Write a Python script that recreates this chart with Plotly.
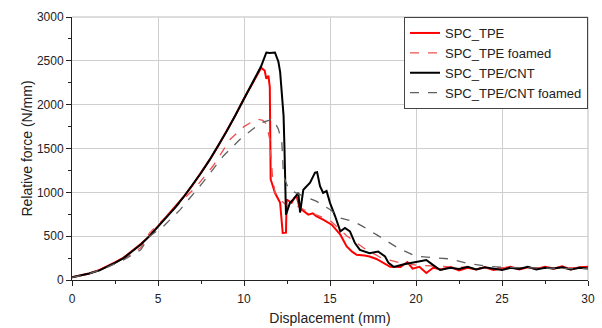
import plotly.graph_objects as go

# SPC_TPE (red solid)
tpe_x = [0, 0.5, 1, 1.6, 2, 2.5, 3, 3.5, 4, 4.5, 5, 5.5, 6, 6.5, 7, 7.5, 8, 8.5, 9, 9.5, 10, 10.5, 11, 11.2,
         11.3, 11.42, 11.5, 11.55, 11.8, 12.1, 12.2, 12.25, 12.44, 12.48, 12.77, 12.9, 13.06, 13.2, 13.35, 13.5,
         13.74, 14.0, 14.2, 14.6, 15.1, 15.6, 15.97, 16.3, 16.55, 17.0, 17.3, 17.7, 18.1, 18.5, 19.1, 19.5, 19.8,
         20.2, 20.6, 21.0, 21.5, 22.0, 22.5, 23.0, 23.5, 24.0, 24.5, 25.0, 25.5, 26.0, 26.5, 27.0, 27.5, 28.0,
         28.5, 29.0, 29.5, 30.0]
tpe_y = [30, 50, 75, 115, 150, 200, 255, 330, 410, 500, 610, 720, 830, 950, 1080, 1220, 1370, 1530, 1700, 1880,
         2070, 2250, 2420, 2390, 2295, 2330, 2200, 1150, 995, 880, 600, 536, 540, 918, 880, 930, 956, 850, 804, 780,
         746, 760, 727, 689, 631, 517, 382, 320, 287, 280, 268, 240, 191, 150, 148, 205, 130, 150, 80, 140, 120,
         150, 110, 140, 120, 145, 115, 135, 150, 120, 145, 125, 150, 130, 155, 120, 145, 150]

# SPC_TPE foamed (red dashed)
tpef_x = [0, 1, 2, 3, 3.5, 4, 4.5, 5.3, 6.28, 7.25, 8.2, 9.2, 10.0, 10.5, 10.8, 11.1, 11.3, 11.5, 11.65, 11.8,
          12.2, 12.6, 13.0, 13.5, 14.0, 15.0, 16.0, 17.0, 18.0, 19.0, 20.0, 22.0, 24.0, 26.0, 28.0, 30.0]
tpef_y = [30, 75, 145, 240, 300, 370, 535, 690, 880, 1070, 1300, 1605, 1750, 1810, 1835, 1820, 1780, 1600, 1200,
          1000, 900, 830, 850, 800, 760, 680, 500, 360, 250, 200, 170, 150, 140, 140, 135, 140]

# SPC_TPE/CNT (black solid)
cnt_x = [0, 0.5, 1, 1.6, 2, 2.5, 3, 3.5, 4, 4.5, 5, 5.5, 6, 6.5, 7, 7.5, 8, 8.5, 9, 9.5, 10, 10.5, 11, 11.3,
         11.5, 11.8, 12.0, 12.1, 12.25, 12.3, 12.35, 12.44, 12.67, 12.87, 13.16, 13.26, 13.45, 13.84, 14.13, 14.25,
         14.42, 14.6, 14.8, 15.0, 15.3, 15.6, 15.87, 16.16, 16.45, 16.74, 17.3, 17.8, 18.2, 18.4, 18.7, 19.3, 20.0,
         20.6, 21.0, 21.4, 22.0, 22.5, 23.0, 23.5, 24.0, 24.5, 25.0, 25.5, 26.0, 26.5, 27.0, 27.5, 28.0, 28.5,
         29.0, 29.5, 30.0]
cnt_y = [30, 50, 75, 110, 145, 195, 250, 325, 405, 500, 605, 715, 825, 950, 1080, 1220, 1370, 1530, 1700, 1880,
         2070, 2260, 2440, 2595, 2590, 2595, 2490, 2375, 2030, 1875, 1530, 745, 880, 920, 995, 770, 1030, 1110,
         1225, 1230, 1070, 995, 1015, 880, 727, 555, 593, 555, 421, 344, 306, 325, 268, 195, 150, 180, 205, 228,
         170, 114, 140, 125, 150, 120, 145, 130, 115, 140, 125, 150, 120, 140, 130, 145, 120, 140, 130]

# SPC_TPE/CNT foamed (black dashed)
cntf_x = [0, 1, 2, 3, 3.5, 4, 4.5, 5.3, 6.28, 7.6, 8.8, 9.77, 10.5, 11.1, 11.5, 11.7, 12.0, 12.2, 12.3, 12.6,
          13.45, 14.2, 15.0, 15.6, 16.35, 16.9, 17.7, 18.3, 19.0, 20.0, 21.0, 22.0, 23.0, 24.0, 25.0, 26.0, 27.0,
          28.0, 29.0, 30.0]
cntf_y = [30, 70, 140, 230, 285, 345, 497, 610, 800, 1110, 1415, 1605, 1720, 1800, 1825, 1835, 1720, 1570, 1185,
          1033, 956, 899, 804, 708, 670, 612, 517, 440, 360, 270, 255, 240, 190, 160, 145, 140, 135, 135, 130, 130]

x_ticks = [0, 5, 10, 15, 20, 25, 30]
y_ticks = [0, 500, 1000, 1500, 2000, 2500, 3000]

fig = go.Figure()
fig.add_trace(go.Scatter(x=tpe_x, y=tpe_y, mode="lines", name="SPC_TPE",
                         line=dict(color="#ff0000", width=2)))
fig.add_trace(go.Scatter(x=tpef_x, y=tpef_y, mode="lines", name="SPC_TPE foamed",
                         line=dict(color="#f05050", width=1.3, dash="dash")))
fig.add_trace(go.Scatter(x=cnt_x, y=cnt_y, mode="lines", name="SPC_TPE/CNT",
                         line=dict(color="#000000", width=2)))
fig.add_trace(go.Scatter(x=cntf_x, y=cntf_y, mode="lines", name="SPC_TPE/CNT foamed",
                         line=dict(color="#606060", width=1.3, dash="dash")))

axis_font = dict(family="Liberation Sans, Arial, sans-serif", size=12, color="#222")
fig.update_layout(
    width=602, height=328,
    margin=dict(l=72, r=14, t=17, b=48),
    paper_bgcolor="white", plot_bgcolor="white",
    font=dict(family="Liberation Sans, Arial, sans-serif", size=12, color="#222"),
    showlegend=True,
    legend=dict(x=1, y=1, xanchor="right", yanchor="top", bgcolor="white",
                bordercolor="#444", borderwidth=1, font=dict(size=13, color="#222"),
                tracegroupgap=0),
    xaxis=dict(range=[0, 30], tickvals=x_ticks, ticks="outside", ticklen=5, tickcolor="#222",
               showline=True, linecolor="#222", linewidth=1, showgrid=True, gridcolor="#cfcfcf",
               zeroline=False, tickfont=axis_font, ticklabelstandoff=3, automargin=False,
               minor=dict(dtick=2.5, ticks="outside", ticklen=3, tickcolor="#222", showgrid=False),
               title=dict(text="Displacement (mm)", font=dict(size=14, color="#222"), standoff=7)),
    yaxis=dict(range=[0, 3000], tickvals=y_ticks, ticks="outside", ticklen=5, tickcolor="#222",
               showline=True, linecolor="#222", linewidth=1, showgrid=True, gridcolor="#cfcfcf",
               zeroline=False, tickfont=axis_font, automargin=False,
               minor=dict(dtick=250, ticks="outside", ticklen=3, tickcolor="#222", showgrid=False),
               title=dict(text="Relative force (N/mm)", font=dict(size=14, color="#222"), standoff=0)),
    shapes=[dict(type="line", xref="paper", yref="paper", x0=0, x1=1, y0=1, y1=1,
                 line=dict(color="#bbbbbb", width=1), layer="below"),
            dict(type="line", xref="paper", yref="paper", x0=1, x1=1, y0=0, y1=1,
                 line=dict(color="#bbbbbb", width=1), layer="below")],
)

fig.write_html("out.html")
